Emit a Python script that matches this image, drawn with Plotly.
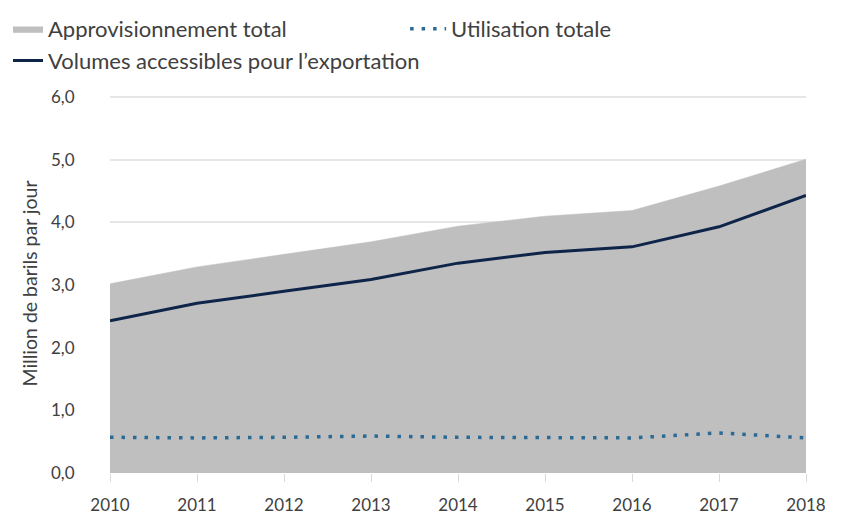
import plotly.graph_objects as go

years = [2010, 2011, 2012, 2013, 2014, 2015, 2016, 2017, 2018]
supply_total = [3.02, 3.29, 3.49, 3.69, 3.94, 4.10, 4.19, 4.58, 5.01]
usage_total = [0.57, 0.56, 0.57, 0.59, 0.57, 0.57, 0.56, 0.64, 0.56]
export_volumes = [2.43, 2.71, 2.90, 3.09, 3.35, 3.52, 3.61, 3.93, 4.43]
y_ticks = [0, 1, 2, 3, 4, 5, 6]

fig = go.Figure()
fig.add_trace(go.Scatter(
    x=years, y=supply_total, name="Approvisionnement total",
    mode="lines", fill="tozeroy", fillcolor="#bfbfbf",
    line=dict(color="#bfbfbf", width=0.5), legend="legend",
))
fig.add_trace(go.Scatter(
    x=years, y=usage_total, name="Utilisation totale",
    mode="lines", line=dict(color="#2c6a96", width=3.5, dash="3.5px,8px"),
    legend="legend2",
))
fig.add_trace(go.Scatter(
    x=years, y=export_volumes, name="Volumes accessibles pour l’exportation",
    mode="lines", line=dict(color="#0e2549", width=3), legend="legend3",
))

legend_font = dict(family="Lato", size=22, color="#404040")

# the page body has an 8px margin, so the margins below are shifted by 8px
fig.update_layout(
    width=846, height=529,
    margin=dict(l=102, r=48, t=86, b=64),
    paper_bgcolor="white", plot_bgcolor="white",
    font=dict(family="Lato", size=17, color="#404040"),
    separators=", ",
    showlegend=True,
    legend=dict(x=-0.155, y=1.01, yref="container", xanchor="left", yanchor="top",
                font=legend_font, itemwidth=30),
    legend2=dict(x=0.424, y=1.01, yref="container", xanchor="left", yanchor="top",
                 font=legend_font, itemwidth=36),
    legend3=dict(x=-0.155, y=0.94, yref="container", xanchor="left", yanchor="top",
                 font=legend_font, itemwidth=30),
    xaxis=dict(
        range=[2010, 2018], tickmode="array", tickvals=years,
        showgrid=False, ticks="outside", ticklen=8, tickcolor="#d9d9d9",
        ticklabelstandoff=9,
        showline=False, zeroline=False, tickfont=dict(size=17),
        automargin=False,
    ),
    yaxis=dict(
        range=[0, 6.05], tickmode="array", tickvals=y_ticks, tickformat=".1f",
        showgrid=True, gridcolor="#e6e6e6", gridwidth=2, zeroline=False,
        ticks="outside", ticklen=31, tickcolor="rgba(0,0,0,0)",
        title=dict(text="Million de barils par jour", font=dict(size=19.5), standoff=8),
        tickfont=dict(size=17), automargin=False,
    ),
)

fig.write_html("out.html")
